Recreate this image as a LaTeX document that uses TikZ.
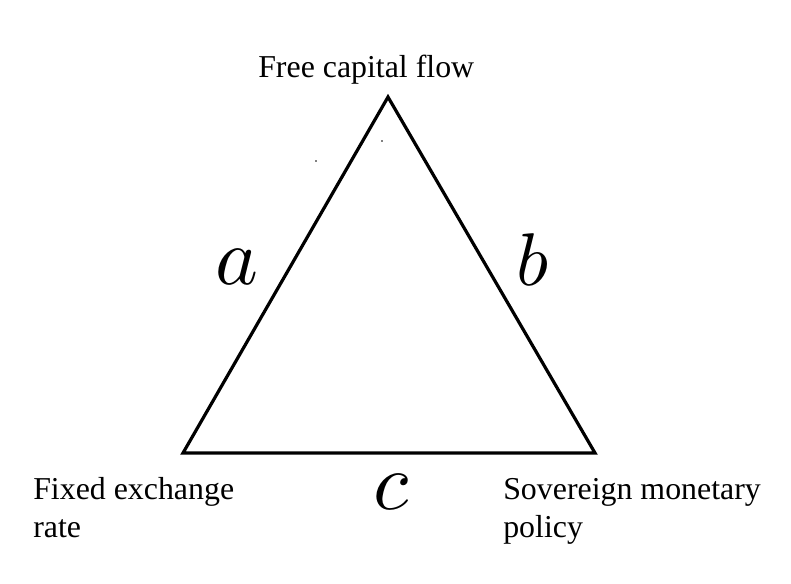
\documentclass[tikz,border=0pt]{standalone}
\usepackage{fontspec}
\setmainfont{Liberation Serif}
\begin{document}
\begin{tikzpicture}[x=0.75pt,y=-0.75pt,
  lbl/.style={inner sep=0pt,anchor=base west,font=\fontsize{23.9}{28.5}\selectfont},
  side/.style={inner sep=0pt,anchor=base},
  edge/.style={line width=2.4pt,line join=miter}]
\useasboundingbox (0,0) rectangle (791,583);
\coordinate (T) at (388,97);
\coordinate (L) at (183,453);
\coordinate (R) at (595,453);
\draw[edge] (T) -- (L) -- (R) -- cycle;
\node[lbl] (top) at (258,77) {Free capital flow};
\node[lbl] (fx1) at (33,499) {Fixed exchange};
\node[lbl] (fx2) at (33,537) {rate};
\node[lbl] (sm1) at (503,499) {Sovereign monetary};
\node[lbl] (sm2) at (503,537) {policy};
\node[side] (a) at (237,284) {\scalebox{6.1}{$a$}};
\node[side] (b) at (533,285) {\scalebox{5.6}{$b$}};
\node[side] (c) at (391,509) {\scalebox{6.1}{$c$}};
\fill (316,161) circle (0.8);
\fill (382,141) circle (0.8);
\end{tikzpicture}
\end{document}
